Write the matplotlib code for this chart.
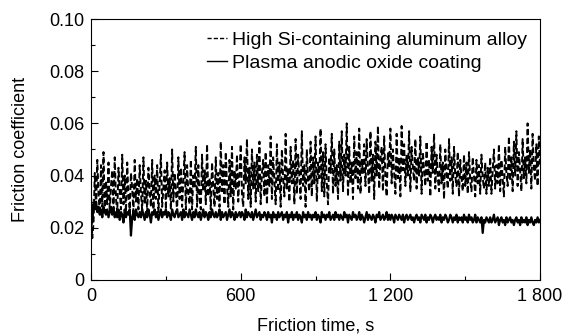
import numpy as np
import matplotlib
matplotlib.use("Agg")
import matplotlib.pyplot as plt
from matplotlib.ticker import MultipleLocator, FixedLocator

# friction time, s (one reading every 5 s)
time_s = np.arange(0, 1801, 5)

# friction coefficient x 1000 (rows of 100 s)
alloy_milli = [
    30, 16, 22, 41, 27, 46, 33, 25, 44, 28, 49, 26, 38, 29, 45, 26, 36, 42, 27, 47,
    31, 26, 43, 34, 27, 48, 29, 40, 26, 45, 32, 27, 41, 35, 26, 46, 30, 39, 27, 44,
    33, 27, 47, 29, 38, 26, 43, 34, 28, 46, 27, 40, 31, 44, 26, 37, 48, 28, 35, 42,
    27, 45, 32, 39, 27, 50, 30, 41, 34, 26, 47, 31, 43, 28, 38, 49, 27, 44, 33, 29,
    46, 27, 40, 35, 51, 28, 44, 31, 27, 48, 34, 42, 29, 52, 32, 39, 27, 45, 36, 28,
    47, 31, 41, 28, 53, 34, 44, 29, 49, 36, 28, 46, 32, 51, 27, 42, 35, 48, 30, 40,
    52, 33, 28, 47, 37, 54, 31, 43, 28, 50, 35, 45, 30, 48, 34, 53, 29, 41, 46, 32,
    49, 29, 44, 36, 55, 31, 47, 38, 29, 52, 34, 45, 28, 50, 39, 32, 56, 35, 43, 30,
    51, 37, 46, 29, 54, 33, 48, 40, 31, 57, 36, 44, 28, 50, 38, 34, 53, 32, 47, 37,
    55, 30, 45, 39, 58, 34, 49, 32, 52, 37, 29, 47, 41, 56, 33, 50, 36, 44, 31, 53,
    38, 57, 34, 48, 40, 60, 32, 51, 37, 45, 31, 55, 39, 49, 35, 58, 33, 46, 41, 52,
    36, 54, 42, 33, 57, 38, 48, 31, 53, 40, 59, 35, 46, 51, 34, 55, 39, 32, 49, 43,
    58, 37, 50, 41, 33, 56, 39, 47, 32, 59, 42, 52, 36, 48, 40, 57, 34, 51, 43, 38,
    54, 35, 47, 40, 55, 33, 49, 42, 36, 53, 38, 46, 32, 51, 41, 56, 35, 48, 39, 34,
    52, 37, 45, 31, 50, 41, 35, 54, 38, 47, 33, 51, 40, 36, 49, 32, 46, 39, 34, 48,
    36, 45, 33, 49, 38, 34, 47, 40, 32, 46, 37, 44, 33, 48, 39, 35, 45, 33, 43, 36,
    47, 33, 42, 50, 35, 44, 37, 52, 34, 46, 39, 32, 51, 41, 36, 55, 38, 47, 34, 53,
    40, 57, 36, 49, 42, 34, 54, 39, 47, 37, 60, 41, 50, 35, 56, 43, 38, 52, 36, 55,
    44,
]
coating_milli = [
    31, 22, 29, 27, 30, 26, 28, 25, 27, 24, 28, 26, 25, 27, 24, 26, 28, 25, 27, 24,
    26, 24, 27, 23, 26, 25, 22, 27, 24, 26, 25, 27, 17, 24, 26, 23, 27, 25, 24, 26,
    24, 27, 25, 23, 26, 24, 27, 25, 22, 26, 25, 27, 24, 26, 23, 25, 27, 24, 26, 25,
    27, 24, 26, 25, 23, 27, 25, 24, 26, 27, 24, 25, 26, 23, 27, 24, 26, 25, 24, 27,
    25, 23, 26, 24, 27, 25, 24, 26, 23, 25, 27, 24, 26, 25, 23, 26, 24, 27, 25, 24,
    26, 24, 25, 27, 23, 26, 24, 25, 26, 23, 25, 27, 24, 26, 25, 23, 26, 24, 25, 26,
    24, 26, 25, 23, 27, 24, 26, 25, 24, 26, 23, 25, 27, 24, 25, 26, 23, 25, 24, 26,
    25, 23, 26, 24, 25, 22, 26, 24, 25, 23, 26, 24, 25, 26, 23, 25, 24, 26, 22, 25,
    24, 26, 23, 25, 24, 26, 23, 25, 24, 22, 26, 24, 25, 23, 26, 24, 25, 23, 25, 24,
    26, 23, 25, 24, 22, 26, 24, 25, 23, 25, 24, 26, 23, 24, 25, 23, 26, 24, 25, 23,
    25, 24, 23, 26, 24, 25, 22, 25, 24, 23, 26, 24, 25, 23, 24, 26, 23, 25, 24, 22,
    24, 26, 23, 25, 24, 23, 25, 24, 22, 25, 24, 26, 23, 24, 25, 23, 24, 26, 23, 25,
    23, 25, 24, 22, 25, 24, 23, 25, 24, 23, 25, 22, 24, 25, 23, 24, 25, 23, 24, 22,
    24, 25, 23, 24, 22, 25, 24, 23, 25, 22, 24, 23, 25, 24, 22, 24, 25, 23, 24, 23,
    25, 22, 24, 23, 25, 24, 22, 23, 25, 24, 22, 24, 23, 25, 22, 24, 23, 24, 22, 25,
    23, 24, 22, 25, 23, 24, 22, 23, 25, 22, 24, 23, 22, 24, 18, 23, 22, 24, 23, 22,
    24, 22, 23, 25, 22, 23, 24, 21, 23, 24, 22, 23, 21, 24, 22, 23, 24, 22, 23, 21,
    23, 24, 22, 23, 21, 24, 22, 23, 22, 24, 21, 23, 22, 24, 22, 21, 23, 22, 24, 22,
    23,
]
alloy = np.array(alloy_milli) / 1000.0
coating = np.array(coating_milli) / 1000.0

xticks = [0, 600, 1200, 1800]
xtick_labels = ["0", "600", "1 200", "1 800"]
yticks = [0, 0.02, 0.04, 0.06, 0.08, 0.10]
ytick_labels = ["0", "0.02", "0.04", "0.06", "0.08", "0.10"]

plt.rcParams['font.family'] = ['Liberation Sans', 'DejaVu Sans']

fig = plt.figure(figsize=(5.62, 3.34), dpi=100)
ax = fig.add_axes([0.162, 0.162, 0.799, 0.781])

ax.plot(time_s, alloy, color='black', lw=1.4, ls=(0, (3, 1.5)),
        label='High Si-containing aluminum alloy')
ax.plot(time_s, coating, color='black', lw=1.6, ls='-',
        label='Plasma anodic oxide coating')

ax.set_xlim(0, 1800)
ax.set_ylim(0, 0.10)
ax.xaxis.set_major_locator(FixedLocator(xticks))
ax.set_xticklabels(xtick_labels)
ax.xaxis.set_minor_locator(MultipleLocator(300))
ax.yaxis.set_major_locator(FixedLocator(yticks))
ax.set_yticklabels(ytick_labels)
ax.yaxis.set_minor_locator(MultipleLocator(0.01))
ax.tick_params(which='major', direction='in', length=5, width=0.8, labelsize=13)
ax.tick_params(axis='x', which='major', pad=6)
ax.tick_params(axis='y', which='major', pad=5)
ax.tick_params(which='minor', direction='in', length=3, width=0.8)
for sp in ax.spines.values():
    sp.set_linewidth(0.8)

ax.set_xlabel('Friction time, s', fontsize=13, labelpad=9)
ax.set_ylabel('Friction coefficient', fontsize=13, labelpad=14)

leg = ax.legend(loc='upper right', frameon=False, fontsize=14, handlelength=1.0,
                handletextpad=0.3, labelspacing=0.25, borderaxespad=0.25)
for h in leg.get_lines():
    h.set_linewidth(1.0)

fig.savefig('out.png', dpi=100)
